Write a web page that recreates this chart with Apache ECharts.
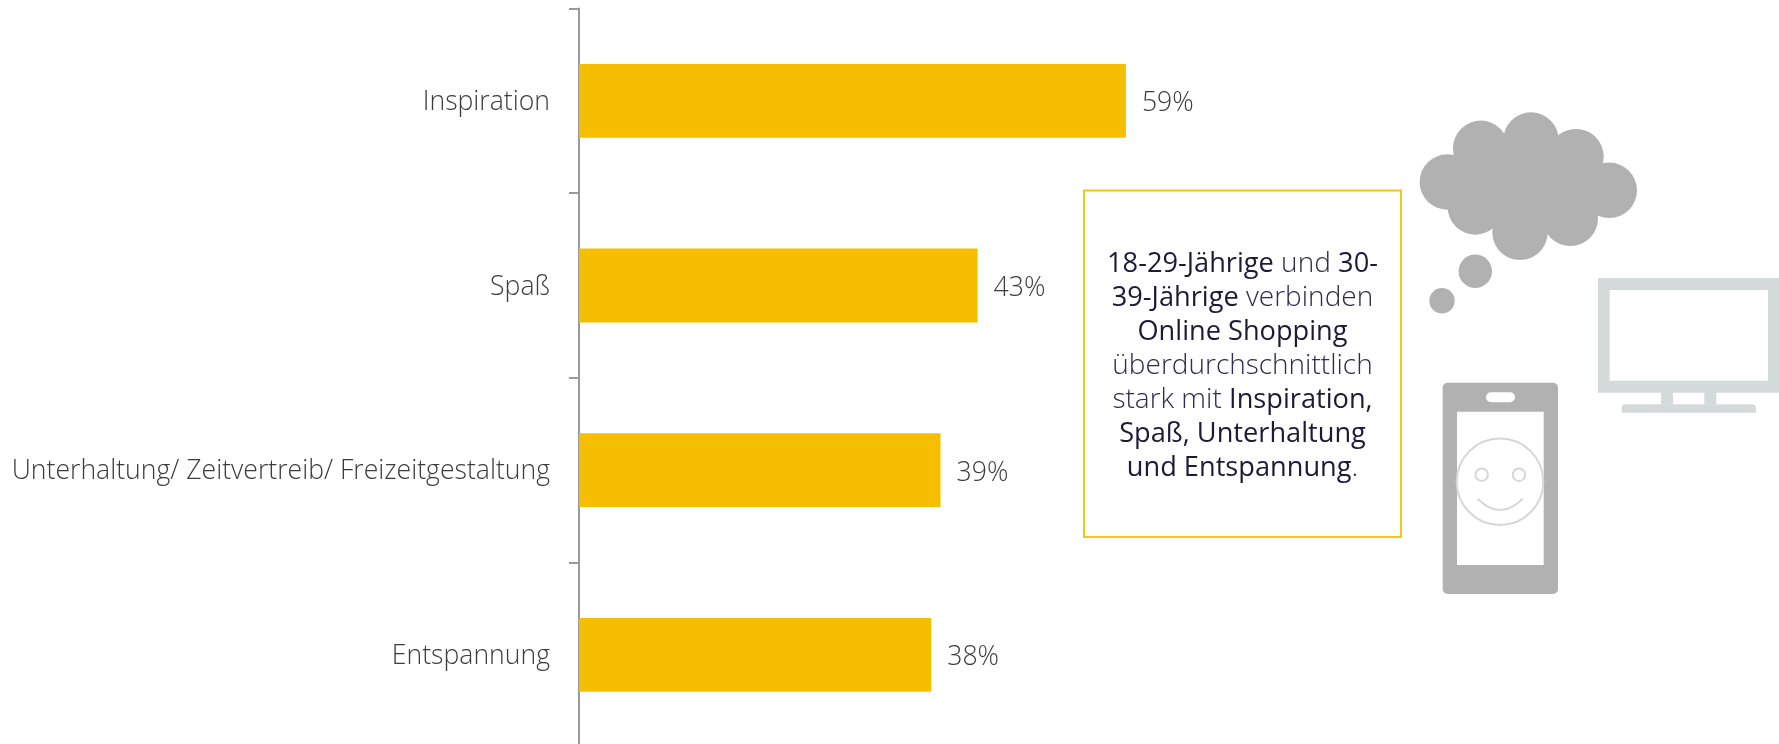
<!DOCTYPE html>
<html>
<head>
<meta charset="utf-8">
<style>html,body{margin:0;padding:0;background:#fff}#chart{width:1779px;height:744px}</style>
<script src="https://cdn.jsdelivr.net/npm/echarts@6/dist/echarts.min.js"></script>
</head>
<body>
<div id="chart"></div>
<script>
// Reasons associated with online shopping, share of respondents in percent
const categories = ['Inspiration', 'Spaß', 'Unterhaltung/ Zeitvertreib/ Freizeitgestaltung', 'Entspannung'];
const shares = [59, 43, 39, 38];

// Callout copy: each line is a list of [style, text] runs
const calloutLines = [
  [['b', '18-29-Jährige'], ['l', ' und '], ['b', '30-']],
  [['b', '39-Jährige'], ['l', ' verbinden']],
  [['b', 'Online Shopping']],
  [['l', 'überdurchschnittlich']],
  [['l', 'stark mit '], ['b', 'Inspiration,']],
  [['b', 'Spaß, Unterhaltung']],
  [['b', 'und Entspannung'], ['l', '.']]
];

const FONT = '"Open Sans", sans-serif';
const YELLOW = '#f5bf00';
const GREY = '#b0b1b0';
const PALE = '#d3dad9';
const SMILE = '#d6d7d6';

const calloutText = calloutLines
  .map(line => line.map(([s, t]) => `{${s}|${t}}`).join(''))
  .join('\n');

const circle = (cx, cy, r, fill) => ({
  type: 'circle', shape: { cx, cy, r }, style: { fill }, silent: true
});
const ring = (cx, cy, r) => ({
  type: 'circle', shape: { cx, cy, r },
  style: { fill: 'none', stroke: SMILE, lineWidth: 2 }, silent: true
});
const box = (x, y, width, height, fill, r) => ({
  type: 'rect', shape: { x, y, width, height, r: r || 0 }, style: { fill }, silent: true
});

// Thought cloud
const cloud = [
  [1447.3, 182], [1480.7, 148.3], [1531, 140], [1576, 156.7],
  [1609.3, 190.3], [1475.3, 207], [1520, 232.3], [1570.3, 218.3]
].map(([x, y]) => circle(x, y, 27.7, GREY));
cloud.push(box(1465, 150, 125, 75, GREY));
cloud.push(circle(1475.3, 271.3, 16.7, GREY));
cloud.push(circle(1442, 300.7, 12.7, GREY));

// Television
const monitor = [
  box(1598, 278, 181, 114.7, PALE),
  box(1609.7, 290, 158.3, 90.7, '#fff'),
  box(1661, 392, 12, 12.5, PALE),
  box(1704.3, 392, 12, 12.5, PALE),
  box(1621.7, 404.3, 134.3, 8.4, PALE, [4, 4, 0, 0])
];

// Phone with a smiling face on its screen
const phone = [
  box(1442.7, 382.7, 115.3, 211.3, GREY, 5),
  box(1457, 411.7, 86.7, 153.3, '#fff'),
  box(1486, 392.3, 29, 10, '#fff', 5),
  ring(1500, 481.7, 43.3),
  ring(1481.7, 474.7, 6.2),
  ring(1519, 474.7, 6.2),
  {
    type: 'bezierCurve',
    shape: { x1: 1477.7, y1: 498.7, x2: 1522.7, y2: 498.7, cpx1: 1500, cpy1: 521.3 },
    style: { fill: 'none', stroke: SMILE, lineWidth: 2 },
    silent: true
  }
];

const callout = [
  {
    type: 'rect',
    shape: { x: 1084, y: 190.5, width: 317, height: 346.5 },
    style: { fill: '#fff', stroke: '#f5c518', lineWidth: 2 },
    silent: true
  },
  {
    type: 'text',
    x: 1242.5,
    y: 366.5,
    silent: true,
    style: {
      text: calloutText,
      align: 'center',
      verticalAlign: 'middle',
      fontFamily: FONT,
      fontSize: 27.2,
      lineHeight: 34,
      rich: {
        b: { fontFamily: FONT, fontSize: 27.2, lineHeight: 34, fontWeight: 400, fill: '#1d1a38' },
        l: { fontFamily: FONT, fontSize: 28, lineHeight: 34, fontWeight: 300, fill: '#2f2b48' }
      }
    }
  }
];

const chart = echarts.init(document.getElementById('chart'), null, { renderer: 'canvas' });
chart.setOption({
  animation: false,
  backgroundColor: '#fff',
  grid: { left: 579, top: 8.5, width: 927, height: 738.7, containLabel: false, outerBoundsMode: 'none' },
  xAxis: { type: 'value', min: 0, max: 100, show: false },
  yAxis: {
    type: 'category',
    data: categories,
    inverse: true,
    axisLine: { lineStyle: { color: '#999a9a', width: 2 } },
    axisTick: { show: true, length: 10, lineStyle: { color: '#999a9a', width: 2 } },
    axisLabel: {
      margin: 29,
      formatter: '{name|{value}}',
      rich: {
        name: {
          padding: [3, 0, 0, 0],
          fontFamily: FONT,
          fontSize: 26.6,
          fontWeight: 300,
          color: '#3c3c3c'
        }
      }
    }
  },
  series: [{
    type: 'bar',
    data: shares,
    barWidth: '40%',
    itemStyle: { color: YELLOW },
    label: {
      show: true,
      position: 'right',
      distance: 16,
      offset: [0, 3],
      formatter: '{c}%',
      fontFamily: FONT,
      fontSize: 26.6,
      fontWeight: 300,
      color: '#3c3c3c'
    }
  }],
  graphic: { elements: [...callout, ...cloud, ...monitor, ...phone] }
});
</script>
</body>
</html>
